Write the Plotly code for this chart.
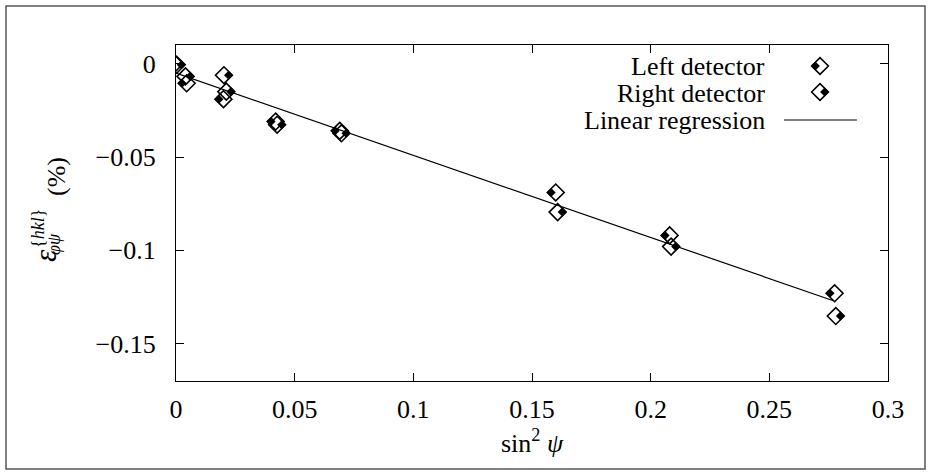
import plotly.graph_objects as go

# ---------------- data ----------------
left_x = [-0.0005, 0.0045, 0.0200, 0.0420, 0.0690, 0.1600, 0.2080, 0.2775]
left_y = [0.0000, -0.0105, -0.0190, -0.0310, -0.0360, -0.0690, -0.0920, -0.1230]
right_x = [0.0003, 0.0040, 0.0202, 0.0212, 0.0426, 0.0697, 0.1608, 0.2086, 0.2780]
right_y = [-0.0006, -0.0068, -0.0062, -0.0150, -0.0327, -0.0373, -0.0795, -0.0980, -0.1352]
reg_x = [0.0, 0.2770]
reg_y = [-0.0051, -0.1270]

x_ticks = [0, 0.05, 0.1, 0.15, 0.2, 0.25, 0.3]
x_ticktext = ["0", "0.05", "0.1", "0.15", "0.2", "0.25", "0.3"]
y_ticks = [-0.15, -0.1, -0.05, 0]
y_ticktext = ["\u22120.15", "\u22120.1", "\u22120.05", "0"]
legend_labels = ["Left detector", "Right detector", "Linear regression"]

X_RANGE = [0, 0.3]
Y_RANGE = [-0.17, 0.01]

# ---------------- layout geometry ----------------
W, H = 931, 474
ML, MR, MT, MB = 176, 43, 45, 93
PW = W - ML - MR
PH = H - MT - MB
FONT = "Liberation Serif"
FS = 26

def px(xp):
    return (xp - ML) / PW

def py(yp):
    return (H - MB - yp) / PH

OFF_PX = 4.6  # pixel offset of the filled half inside the diamond
d = OFF_PX * (X_RANGE[1] - X_RANGE[0]) / PW

BIG = 13
SMALL = 7

fig = go.Figure()

# regression line
fig.add_trace(go.Scatter(x=reg_x, y=reg_y, mode="lines",
                         line=dict(color="black", width=1.2),
                         showlegend=False, hoverinfo="skip"))
# open diamonds
for xs, ys in [(left_x, left_y), (right_x, right_y)]:
    fig.add_trace(go.Scatter(x=xs, y=ys, mode="markers",
                             marker=dict(symbol="diamond-open", size=BIG, color="black",
                                         line=dict(width=1.6)),
                             showlegend=False, hoverinfo="skip"))
# filled halves (shifted via overlaying axes)
fig.add_trace(go.Scatter(x=left_x, y=left_y, mode="markers", xaxis="x2", yaxis="y",
                         marker=dict(symbol="diamond", size=SMALL, color="black",
                                     line=dict(width=0)),
                         showlegend=False, hoverinfo="skip"))
fig.add_trace(go.Scatter(x=right_x, y=right_y, mode="markers", xaxis="x3", yaxis="y",
                         marker=dict(symbol="diamond", size=SMALL, color="black",
                                     line=dict(width=0)),
                         showlegend=False, hoverinfo="skip"))

axis_common = dict(showgrid=False, zeroline=False, showline=True, linecolor="black",
                   linewidth=1.2, mirror="ticks", ticks="inside", ticklen=8,
                   tickwidth=1, tickcolor="black",
                   tickfont=dict(family=FONT, size=FS, color="black"))

fig.update_layout(
    width=W, height=H,
    margin=dict(l=ML, r=MR, t=MT, b=MB, pad=0),
    paper_bgcolor="white", plot_bgcolor="white",
    showlegend=False,
    font=dict(family=FONT, size=FS, color="black"),
    xaxis=dict(range=X_RANGE, tickvals=x_ticks, ticktext=x_ticktext,
               ticklabelstandoff=5, **axis_common),
    yaxis=dict(range=Y_RANGE, tickvals=y_ticks, ticktext=y_ticktext,
               ticklabelstandoff=14, **axis_common),
    xaxis2=dict(range=[X_RANGE[0] + d, X_RANGE[1] + d], overlaying="x", visible=False),
    xaxis3=dict(range=[X_RANGE[0] - d, X_RANGE[1] - d], overlaying="x", visible=False),
)

annotations = []
# x-axis title
annotations.append(dict(x=px(532), y=py(441), xref="paper", yref="paper",
                        text="sin<sup>2</sup> <i>\u03c8</i>", showarrow=False,
                        font=dict(family=FONT, size=FS, color="black"),
                        xanchor="center", yanchor="middle"))
# y-axis title pieces (rotated)
annotations.append(dict(x=px(45), y=py(256), xref="paper", yref="paper",
                        text="<i>\u03b5</i>", showarrow=False, textangle=-90,
                        font=dict(family=FONT, size=31, color="black"),
                        xanchor="center", yanchor="middle"))
annotations.append(dict(x=px(38), y=py(229), xref="paper", yref="paper",
                        text="{<i>hkl</i>}", showarrow=False, textangle=-90,
                        font=dict(family=FONT, size=18, color="black"),
                        xanchor="center", yanchor="middle"))
annotations.append(dict(x=px(54), y=py(244), xref="paper", yref="paper",
                        text="<i>\u03c6\u03c8</i>", showarrow=False, textangle=-90,
                        font=dict(family=FONT, size=18, color="black"),
                        xanchor="center", yanchor="middle"))
annotations.append(dict(x=px(56), y=py(177), xref="paper", yref="paper",
                        text="(%)", showarrow=False, textangle=-90,
                        font=dict(family=FONT, size=FS, color="black"),
                        xanchor="center", yanchor="middle"))
# legend text
for lab, yp in zip(legend_labels, [66, 93, 120]):
    annotations.append(dict(x=px(767), y=py(yp), xref="paper", yref="paper",
                            text=lab, showarrow=False,
                            font=dict(family=FONT, size=FS, color="black"),
                            xanchor="right", yanchor="middle"))
fig.update_layout(annotations=annotations)

# legend symbols and frame as shapes
shapes = []
def diamond_path(cx, hw):
    return f"M {cx - hw} 0 L {cx} {hw} L {cx + hw} 0 L {cx} {-hw} Z"

for yp, side in [(66, -1), (92, 1)]:
    shapes.append(dict(type="path", xref="paper", yref="paper",
                       xsizemode="pixel", ysizemode="pixel",
                       xanchor=px(820), yanchor=py(yp),
                       path=diamond_path(0, 8.4),
                       line=dict(color="black", width=1.6), fillcolor="rgba(0,0,0,0)"))
    shapes.append(dict(type="path", xref="paper", yref="paper",
                       xsizemode="pixel", ysizemode="pixel",
                       xanchor=px(820), yanchor=py(yp),
                       path=diamond_path(side * OFF_PX, 4.5),
                       line=dict(width=0), fillcolor="black"))
shapes.append(dict(type="line", xref="paper", yref="paper",
                   x0=px(784), x1=px(857), y0=py(120), y1=py(120),
                   line=dict(color="black", width=1.2)))
# outer frame
shapes.append(dict(type="rect", xref="paper", yref="paper",
                   x0=px(6), x1=px(925), y0=py(469), y1=py(6),
                   line=dict(color="#555555", width=1.5), fillcolor="rgba(0,0,0,0)"))
fig.update_layout(shapes=shapes)

fig.write_html("out.html")
